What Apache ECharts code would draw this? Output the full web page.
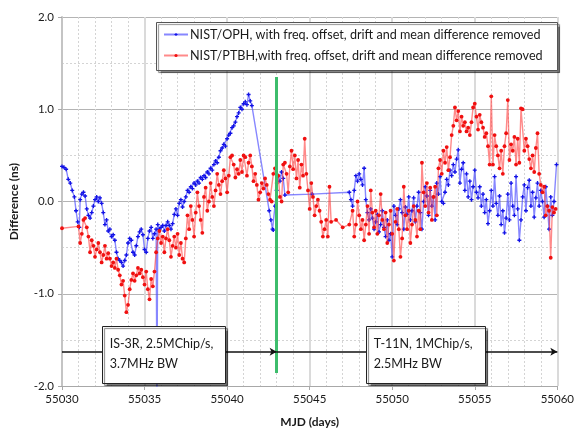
<!DOCTYPE html>
<html>
<head>
<meta charset="utf-8">
<script src="https://cdn.jsdelivr.net/npm/echarts@6/dist/echarts.min.js"></script>
<style>
  html, body { margin: 0; padding: 0; background: #fff; }
  #chart { width: 577px; height: 434px; }
</style>
</head>
<body>
<div id="chart"></div>
<script>
// NIST/OPH time-transfer difference, [MJD, ns]
const ophPoints = [
  [55030.00, 0.38], [55030.12, 0.37], [55030.25, 0.35], [55030.38, 0.24], [55030.50, 0.20],
  [55030.62, 0.12], [55030.75, 0.05], [55030.85, -0.10], [55030.95, -0.22], [55031.05, -0.28],
  [55031.10, 0.02], [55031.20, 0.08], [55031.30, 0.10], [55031.40, 0.06], [55031.50, -0.08],
  [55031.60, -0.15], [55031.70, -0.18], [55031.80, -0.12], [55031.90, -0.05], [55032.00, 0.02],
  [55032.10, 0.05], [55032.20, 0.00], [55032.30, 0.04], [55032.40, -0.02], [55032.50, -0.12],
  [55032.60, -0.25], [55032.70, -0.20], [55032.80, -0.32], [55032.90, -0.30], [55033.00, -0.38],
  [55033.10, -0.36], [55033.20, -0.42], [55033.30, -0.55], [55033.40, -0.62], [55033.50, -0.64],
  [55033.60, -0.66], [55033.70, -0.70], [55033.80, -0.64], [55033.90, -0.58], [55034.00, -0.45],
  [55034.10, -0.40], [55034.20, -0.42], [55034.30, -0.55], [55034.40, -0.58], [55034.50, -0.48],
  [55034.60, -0.38], [55034.70, -0.33], [55034.80, -0.30], [55034.90, -0.36], [55035.00, -0.52],
  [55035.10, -0.55], [55035.20, -0.40], [55035.30, -0.32], [55035.40, -0.28], [55035.50, -0.40],
  [55035.60, -0.35], [55035.70, -0.30], [55035.75, -2.10], [55035.80, -0.25], [55035.90, -0.30],
  [55036.00, -0.28], [55036.10, -0.26], [55036.20, -0.32], [55036.30, -0.26], [55036.40, -0.22],
  [55036.50, -0.26], [55036.60, -0.30], [55036.70, -0.24], [55036.80, -0.14], [55036.90, -0.08],
  [55037.00, -0.15], [55037.10, -0.02], [55037.20, 0.02], [55037.30, -0.06], [55037.40, 0.00],
  [55037.50, 0.05], [55037.60, 0.12], [55037.70, 0.10], [55037.80, 0.16], [55037.90, 0.14],
  [55038.00, 0.20], [55038.10, 0.18], [55038.20, 0.22], [55038.30, 0.20], [55038.40, 0.26],
  [55038.50, 0.24], [55038.60, 0.28], [55038.70, 0.26], [55038.80, 0.32], [55038.90, 0.30],
  [55039.00, 0.36], [55039.10, 0.34], [55039.20, 0.40], [55039.30, 0.44], [55039.40, 0.42],
  [55039.50, 0.48], [55039.60, 0.55], [55039.70, 0.58], [55039.80, 0.62], [55039.90, 0.60],
  [55040.00, 0.68], [55040.10, 0.72], [55040.20, 0.74], [55040.30, 0.80], [55040.40, 0.82],
  [55040.50, 0.86], [55040.60, 0.92], [55040.70, 0.96], [55040.80, 1.02], [55040.90, 1.00],
  [55041.00, 1.06], [55041.10, 1.08], [55041.20, 1.05], [55041.30, 1.16], [55041.40, 1.09],
  [55041.50, 1.04],
  [55042.55, -0.10], [55042.65, -0.20], [55042.75, -0.30], [55042.80, -0.31], [55042.90, -0.05],
  [55043.00, 0.12], [55043.10, 0.28], [55043.20, 0.22], [55043.30, 0.32], [55043.40, 0.25],
  [55043.50, 0.07], [55045.15, 0.08], [55047.40, 0.10],
  [55047.50, 0.02], [55047.60, -0.05], [55047.70, 0.12], [55047.80, 0.28], [55047.90, 0.22],
  [55048.00, 0.30], [55048.10, 0.24], [55048.20, 0.18], [55048.30, 0.36], [55048.40, 0.02],
  [55048.50, -0.12], [55048.60, -0.20], [55048.70, -0.08], [55048.80, -0.18], [55048.90, -0.30],
  [55049.00, -0.22], [55049.10, -0.14], [55049.20, -0.33], [55049.30, -0.25], [55049.40, -0.10],
  [55049.50, -0.28], [55049.60, -0.38], [55049.70, -0.20], [55049.80, -0.42], [55049.90, -0.35],
  [55050.00, -0.60], [55050.10, -0.05], [55050.20, -0.15], [55050.30, -0.25], [55050.40, -0.08],
  [55050.50, 0.02], [55050.60, -0.12], [55050.70, -0.30], [55050.80, -0.06], [55050.90, -0.14],
  [55051.00, 0.05], [55051.10, -0.20], [55051.20, -0.10], [55051.30, 0.04], [55051.40, -0.22],
  [55051.50, -0.05], [55051.60, 0.10], [55051.70, -0.12], [55051.80, -0.30], [55051.90, 0.00],
  [55052.00, 0.16], [55052.10, 0.06], [55052.20, -0.15], [55052.30, 0.12], [55052.40, -0.05],
  [55052.50, 0.05], [55052.60, -0.20], [55052.70, 0.20], [55052.80, 0.08], [55052.90, 0.27],
  [55053.00, 0.00], [55053.10, -0.02], [55053.20, 0.10], [55053.30, 0.24], [55053.40, 0.18],
  [55053.50, 0.34], [55053.60, 0.28], [55053.70, 0.40], [55053.80, 0.32], [55053.90, 0.46],
  [55054.00, 0.56], [55054.10, 0.20], [55054.20, 0.35], [55054.30, 0.42], [55054.40, 0.12],
  [55054.50, 0.30], [55054.60, 0.05], [55054.70, 0.22], [55054.80, 0.02], [55054.90, 0.16],
  [55055.00, 0.34], [55055.10, 0.10], [55055.20, 0.04], [55055.30, 0.16], [55055.40, -0.05],
  [55055.50, 0.08], [55055.60, -0.12], [55055.70, 0.02], [55055.80, -0.24], [55055.90, -0.10],
  [55056.00, 0.12], [55056.10, -0.05], [55056.20, 0.27], [55056.30, -0.02], [55056.40, -0.15],
  [55056.50, 0.06], [55056.60, -0.25], [55056.70, -0.10], [55056.80, -0.34], [55056.90, -0.18],
  [55057.00, 0.08], [55057.10, -0.20], [55057.20, 0.20], [55057.30, -0.05], [55057.40, -0.15],
  [55057.50, 0.27], [55057.60, -0.08], [55057.70, -0.42], [55057.80, -0.20], [55057.90, 0.05],
  [55058.00, 0.18], [55058.10, -0.10], [55058.20, 0.15], [55058.30, 0.23], [55058.40, -0.05],
  [55058.50, 0.10], [55058.60, -0.17], [55058.70, 0.04], [55058.80, 0.20], [55058.90, -0.05],
  [55059.00, 0.12], [55059.10, 0.00], [55059.20, -0.17], [55059.30, 0.16], [55059.40, -0.05],
  [55059.50, -0.30], [55059.60, 0.05], [55059.70, -0.15], [55059.80, 0.00], [55059.95, 0.40]
];

// NIST/PTBH time-transfer difference, [MJD, ns]
const ptbhPoints = [
  [55030.00, -0.29], [55031.00, -0.27], [55031.10, -0.45], [55031.20, -0.35], [55031.30, -0.20],
  [55031.40, -0.18], [55031.50, -0.28], [55031.60, -0.38], [55031.70, -0.55], [55031.80, -0.42],
  [55031.90, -0.48], [55032.00, -0.60], [55032.10, -0.52], [55032.20, -0.45], [55032.30, -0.55],
  [55032.40, -0.66], [55032.50, -0.58], [55032.60, -0.48], [55032.70, -0.62], [55032.80, -0.56],
  [55032.90, -0.62], [55033.00, -0.70], [55033.10, -0.66], [55033.20, -0.72], [55033.30, -0.62],
  [55033.40, -0.74], [55033.50, -0.80], [55033.60, -0.90], [55033.70, -0.86], [55033.80, -1.02],
  [55033.90, -1.20], [55034.00, -1.12], [55034.10, -0.95], [55034.20, -0.85], [55034.30, -0.78],
  [55034.40, -0.86], [55034.50, -0.80], [55034.60, -0.72], [55034.70, -0.78], [55034.80, -0.74],
  [55034.90, -0.82], [55035.00, -0.90], [55035.10, -0.76], [55035.20, -0.95], [55035.30, -1.06],
  [55035.40, -0.84], [55035.50, -0.92], [55035.60, -0.76], [55035.70, -0.55], [55035.80, -0.40],
  [55035.90, -0.32], [55036.00, -0.45], [55036.10, -0.38], [55036.20, -0.55], [55036.30, -0.40],
  [55036.40, -0.30], [55036.50, -0.42], [55036.60, -0.60], [55036.70, -0.48], [55036.80, -0.38],
  [55036.90, -0.50], [55037.00, -0.35], [55037.10, -0.58], [55037.20, -0.45], [55037.30, -0.62],
  [55037.40, -0.66], [55037.50, -0.40], [55037.60, -0.15], [55037.70, -0.30], [55037.80, -0.05],
  [55037.90, -0.20], [55038.00, -0.38], [55038.10, -0.12], [55038.20, 0.10], [55038.30, -0.05],
  [55038.40, -0.20], [55038.50, -0.34], [55038.60, 0.05], [55038.70, 0.15], [55038.80, -0.10],
  [55038.90, 0.00], [55039.00, 0.20], [55039.10, 0.05], [55039.20, -0.05], [55039.30, 0.12],
  [55039.40, 0.30], [55039.50, 0.18], [55039.60, 0.08], [55039.70, 0.22], [55039.80, 0.34],
  [55039.90, 0.25], [55040.00, 0.10], [55040.10, 0.28], [55040.20, 0.48], [55040.30, 0.50],
  [55040.40, 0.40], [55040.50, 0.26], [55040.60, 0.35], [55040.70, 0.30], [55040.80, 0.45],
  [55040.90, 0.32], [55041.00, 0.50], [55041.10, 0.48], [55041.20, 0.28], [55041.30, 0.42],
  [55041.40, 0.50], [55041.50, 0.38], [55041.60, 0.22], [55041.70, 0.30], [55041.80, 0.18],
  [55041.90, 0.02], [55042.00, 0.10], [55042.10, 0.20], [55042.20, 0.14], [55042.30, 0.25],
  [55042.40, 0.18], [55042.50, 0.08], [55042.60, 0.02], [55042.70, 0.00], [55042.80, 0.30],
  [55042.90, 0.36], [55043.00, 0.20], [55043.10, 0.28], [55043.20, 0.05], [55043.30, 0.00],
  [55043.40, 0.40], [55043.50, 0.42], [55043.60, 0.30], [55043.70, 0.10], [55043.80, 0.38],
  [55043.90, 0.55], [55044.00, 0.35], [55044.10, 0.50], [55044.20, 0.25], [55044.30, 0.45],
  [55044.40, 0.15], [55044.50, 0.40], [55044.60, 0.28], [55044.70, 0.68], [55044.80, 0.30],
  [55044.90, 0.12], [55045.00, -0.08], [55045.10, 0.20], [55045.20, 0.05], [55045.30, -0.15],
  [55045.40, -0.05], [55045.50, 0.02], [55045.60, -0.10], [55045.70, -0.22], [55045.80, -0.38],
  [55045.90, -0.30], [55046.00, -0.20], [55046.10, -0.38], [55046.20, 0.16], [55046.30, -0.22],
  [55046.60, -0.20], [55047.00, -0.28], [55047.40, -0.25], [55047.60, -0.10], [55047.70, -0.38],
  [55047.80, -0.25], [55047.90, 0.00], [55048.00, -0.15], [55048.10, -0.30], [55048.20, -0.20],
  [55048.30, -0.42], [55048.40, -0.25], [55048.50, -0.05], [55048.60, -0.35], [55048.70, 0.12],
  [55048.80, -0.12], [55048.90, -0.28], [55049.00, -0.10], [55049.10, -0.35], [55049.20, -0.15],
  [55049.30, 0.08], [55049.40, -0.20], [55049.50, -0.30], [55049.60, -0.12], [55049.70, -0.45],
  [55049.80, -0.25], [55049.90, -0.10], [55050.00, -0.35], [55050.10, -0.64], [55050.20, -0.22],
  [55050.30, -0.08], [55050.40, -0.30], [55050.50, -0.60], [55050.60, -0.40], [55050.70, 0.16],
  [55050.80, -0.15], [55050.90, -0.30], [55051.00, -0.10], [55051.10, -0.45], [55051.20, -0.25],
  [55051.30, -0.05], [55051.40, -0.20], [55051.50, -0.38], [55051.60, -0.10], [55051.70, -0.30],
  [55051.80, 0.42], [55051.90, 0.10], [55052.00, -0.05], [55052.10, 0.20], [55052.20, -0.12],
  [55052.30, 0.15], [55052.40, -0.20], [55052.50, 0.05], [55052.60, 0.16], [55052.70, -0.15],
  [55052.80, 0.36], [55052.90, 0.45], [55053.00, 0.30], [55053.10, 0.55], [55053.20, 0.42],
  [55053.30, 0.59], [55053.40, 0.34], [55053.50, 0.48], [55053.60, 0.72], [55053.70, 0.82],
  [55053.80, 1.02], [55053.90, 0.88], [55054.00, 0.98], [55054.10, 0.76], [55054.20, 0.92],
  [55054.30, 0.82], [55054.40, 0.86], [55054.50, 0.76], [55054.60, 0.80], [55054.70, 0.72],
  [55054.80, 0.86], [55054.90, 1.02], [55055.00, 1.06], [55055.10, 0.92], [55055.20, 0.78],
  [55055.30, 0.94], [55055.40, 0.86], [55055.50, 0.80], [55055.60, 0.70], [55055.70, 0.74],
  [55055.80, 0.60], [55055.90, 0.40], [55056.00, 1.14], [55056.10, 0.40], [55056.20, 0.72],
  [55056.30, 0.60], [55056.40, 0.50], [55056.50, 0.36], [55056.60, 0.55], [55056.70, 0.30],
  [55056.80, 0.60], [55056.90, 0.74], [55057.00, 1.10], [55057.10, 0.45], [55057.20, 0.62],
  [55057.30, 0.55], [55057.40, 0.70], [55057.50, 0.40], [55057.60, 0.68], [55057.70, 0.42],
  [55057.80, 1.01], [55057.90, 1.00], [55058.00, 0.55], [55058.10, 0.68], [55058.20, 0.60],
  [55058.30, 0.46], [55058.40, 0.36], [55058.50, 0.50], [55058.60, 0.32], [55058.70, 0.58],
  [55058.80, 0.74], [55058.90, 0.30], [55059.00, 0.18], [55059.10, 0.10], [55059.20, 0.16],
  [55059.30, -0.15], [55059.40, -0.05], [55059.50, -0.10], [55059.60, -0.61], [55059.70, -0.06],
  [55059.80, -0.12], [55059.90, -0.08]
];

const seriesNames = [
  'NIST/OPH, with freq. offset, drift and mean difference removed',
  'NIST/PTBH,with freq. offset, drift and mean difference removed'
];

// Satellite switch-over and the two link configurations
const switchMjd = 55043;
const switchSpan = [1.35, -1.86];
const periodArrowLevel = -1.63;
const periods = [
  { from: 55030, to: 55043, lines: ['IS-3R, 2.5MChip/s,', '3.7MHz BW'], box: [55032.4, 55039.85] },
  { from: 55043, to: 55060, lines: ['T-11N, 1MChip/s,', '2.5MHz BW'], box: [55048.4, 55055.6] }
];
const periodBoxLevels = [-1.35, -1.97];

const xRange = [55030, 55060, 5];
const yRange = [-2, 2, 1];

const FONT = 'Lato, "Open Sans", sans-serif';

const chart = echarts.init(document.getElementById('chart'), null, { renderer: 'canvas' });

const plusPath = 'path://M1,0h1v1h1v1h-1v1h-1v-1h-1v-1h1z';

const option = {
  animation: false,
  backgroundColor: '#ffffff',
  textStyle: { fontFamily: FONT },
  grid: { left: 62, right: 18, top: 17, bottom: 48, containLabel: false },
  legend: {
    orient: 'vertical',
    left: 163,
    top: 28,
    itemGap: 8,
    itemWidth: 24,
    itemHeight: 4,
    padding: 0,
    z: 6,
    textStyle: { fontFamily: FONT, fontSize: 12.6, color: '#1a1a1a', padding: [0, 0, 0, -3] },
    data: seriesNames
  },
  xAxis: {
    type: 'value',
    min: xRange[0],
    max: xRange[1],
    interval: xRange[2],
    name: 'MJD (days)',
    nameLocation: 'middle',
    nameGap: 30,
    nameTextStyle: { fontFamily: FONT, fontSize: 12, fontWeight: 'bold', color: '#1a1a1a' },
    axisLine: { show: true, onZero: false, lineStyle: { color: '#a8a8a8', width: 1 } },
    axisTick: { show: true, length: 4, lineStyle: { color: '#a8a8a8' } },
    axisLabel: { fontFamily: FONT, fontSize: 11.5, color: '#1a1a1a', margin: 7, formatter: v => String(v) },
    splitLine: { show: true, lineStyle: { color: '#dadada', width: 2 } },
    minorTick: { show: false, splitNumber: 5 },
    minorSplitLine: { show: true, lineStyle: { color: '#d4d4d4', width: 1, type: [2, 2] } }
  },
  yAxis: {
    type: 'value',
    min: yRange[0],
    max: yRange[1],
    interval: yRange[2],
    name: 'Difference (ns)',
    nameLocation: 'middle',
    nameGap: 42,
    nameTextStyle: { fontFamily: FONT, fontSize: 12, fontWeight: 'bold', color: '#1a1a1a' },
    axisLine: { show: true, lineStyle: { color: '#c4c4c4', width: 2 } },
    axisTick: { show: true, length: 4, lineStyle: { color: '#a8a8a8' } },
    axisLabel: { fontFamily: FONT, fontSize: 11.5, color: '#1a1a1a', margin: 8, formatter: v => v.toFixed(1) },
    splitLine: { show: true, lineStyle: { color: '#b4b4b4', width: 1 } },
    minorTick: { show: false, splitNumber: 2 },
    minorSplitLine: { show: true, lineStyle: { color: '#d4d4d4', width: 1, type: [2, 2] } }
  },
  series: [
    {
      name: seriesNames[0],
      type: 'line',
      data: ophPoints,
      symbol: plusPath,
      symbolSize: 4,
      showAllSymbol: true,
      itemStyle: { color: '#1212e6' },
      lineStyle: { color: 'rgba(70,70,255,0.65)', width: 1.4 },
      z: 2,
      markLine: {
        silent: true,
        symbol: ['none', 'none'],
        label: { show: false },
        lineStyle: { color: '#3dbd6c', width: 3, type: 'solid' },
        data: [[{ coord: [switchMjd, switchSpan[0]] }, { coord: [switchMjd, switchSpan[1]] }]]
      }
    },
    {
      name: seriesNames[1],
      type: 'line',
      data: ptbhPoints,
      symbol: 'circle',
      symbolSize: 3.8,
      showAllSymbol: true,
      itemStyle: { color: '#f01010' },
      lineStyle: { color: 'rgba(255,60,60,0.6)', width: 1.4 },
      z: 3,
      markLine: {
        silent: true,
        symbol: ['none', 'arrow'],
        symbolSize: [6, 7],
        label: { show: false },
        lineStyle: { color: '#111', width: 1.5, type: 'solid' },
        data: periods.map(p => [{ coord: [p.from, periodArrowLevel] }, { coord: [p.to, periodArrowLevel] }])
      }
    }
  ]
};

chart.setOption(option);

// Legend frame and the two link-configuration boxes
function buildAnnotations() {
  const graphics = [];
  graphics.push({
    type: 'rect',
    z: 5,
    shape: { x: 156.5, y: 22.5, width: 401, height: 48 },
    style: { fill: '#fff', stroke: '#555', lineWidth: 1, shadowColor: 'rgba(0,0,0,0.45)', shadowOffsetX: 2, shadowOffsetY: 2, shadowBlur: 1 }
  });
  periods.forEach(p => {
    const tl = chart.convertToPixel({ gridIndex: 0 }, [p.box[0], periodBoxLevels[0]]);
    const br = chart.convertToPixel({ gridIndex: 0 }, [p.box[1], periodBoxLevels[1]]);
    graphics.push({
      type: 'rect',
      z: 10,
      shape: { x: Math.round(tl[0]) + 0.5, y: Math.round(tl[1]) + 0.5, width: Math.round(br[0] - tl[0]), height: Math.round(br[1] - tl[1]) },
      style: { fill: '#fff', stroke: '#222', lineWidth: 1, shadowColor: 'rgba(0,0,0,0.5)', shadowOffsetX: 2, shadowOffsetY: 2, shadowBlur: 1 }
    });
    graphics.push({
      type: 'text',
      z: 11,
      x: tl[0] + 8,
      y: tl[1] + 8,
      style: { text: p.lines.join('\n'), fontFamily: FONT, fontSize: 12.5, lineHeight: 20, fill: '#1a1a1a' }
    });
  });
  chart.setOption({ graphic: { elements: graphics } });
}
buildAnnotations();
</script>
</body>
</html>
